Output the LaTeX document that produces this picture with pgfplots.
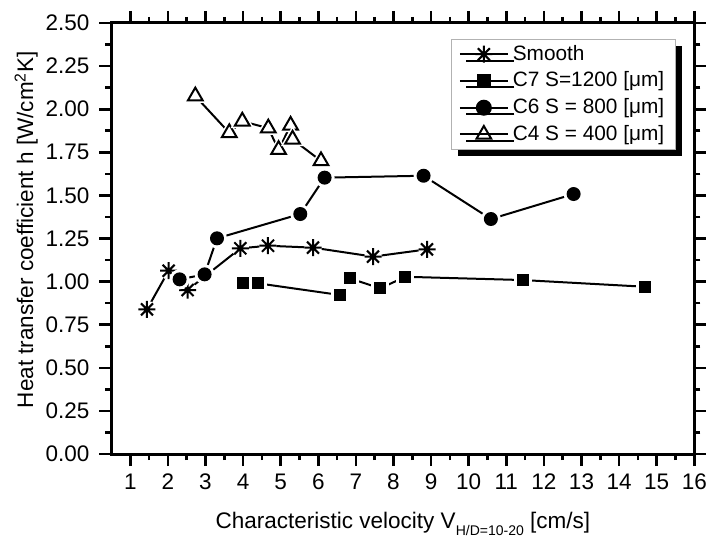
\documentclass[border=0pt]{standalone}
\usepackage{fontspec}
\setmainfont{Liberation Sans}
\usepackage{pgfplots}
\pgfplotsset{compat=1.18}
\usetikzlibrary{shadows}

\newdimen\halor
\def\starpath{%
  \pgfpathmoveto{\pgfqpoint{0pt}{\pgfplotmarksize}}%
  \pgfpathlineto{\pgfqpoint{0pt}{-\pgfplotmarksize}}%
  \pgfpathmoveto{\pgfqpoint{\pgfplotmarksize}{0pt}}%
  \pgfpathlineto{\pgfqpoint{-\pgfplotmarksize}{0pt}}%
  \pgfpathmoveto{\pgfqpoint{0.707\pgfplotmarksize}{0.707\pgfplotmarksize}}%
  \pgfpathlineto{\pgfqpoint{-0.707\pgfplotmarksize}{-0.707\pgfplotmarksize}}%
  \pgfpathmoveto{\pgfqpoint{-0.707\pgfplotmarksize}{0.707\pgfplotmarksize}}%
  \pgfpathlineto{\pgfqpoint{0.707\pgfplotmarksize}{-0.707\pgfplotmarksize}}}
\pgfdeclareplotmark{star8}{\starpath\pgfusepathqstroke}
\pgfdeclareplotmark{hstar}{%
  \pgfsetlinewidth{6pt}\pgfsetstrokecolor{white}%
  \starpath\pgfusepathqstroke
  \pgfsetlinewidth{2pt}\pgfsetstrokecolor{black}%
  \starpath\pgfusepathqstroke}
\pgfdeclareplotmark{hcircle}{%
  \halor=\pgfplotmarksize\advance\halor by 3pt
  \pgfsetfillcolor{white}%
  \pgfpathcircle{\pgfpointorigin}{\halor}\pgfusepathqfill
  \pgfsetfillcolor{black}%
  \pgfpathcircle{\pgfpointorigin}{\pgfplotmarksize}\pgfusepathqfill}
\pgfdeclareplotmark{hsquare}{%
  \halor=\pgfplotmarksize\advance\halor by 3pt
  \pgfsetfillcolor{white}%
  \pgfpathrectangle{\pgfqpoint{-\halor}{-\halor}}{\pgfqpoint{2\halor}{2\halor}}\pgfusepathqfill
  \pgfsetfillcolor{black}%
  \pgfpathrectangle{\pgfqpoint{-\pgfplotmarksize}{-\pgfplotmarksize}}{\pgfqpoint{2\pgfplotmarksize}{2\pgfplotmarksize}}\pgfusepathqfill}
\pgfdeclareplotmark{htriangle}{%
  \halor=\pgfplotmarksize\advance\halor by 5pt
  \pgfsetfillcolor{white}%
  \pgfpathmoveto{\pgfqpoint{0pt}{\halor}}%
  \pgfpathlineto{\pgfqpoint{-0.866\halor}{-0.5\halor}}%
  \pgfpathlineto{\pgfqpoint{0.866\halor}{-0.5\halor}}%
  \pgfpathclose\pgfusepathqfill
  \pgfsetlinewidth{2pt}\pgfsetstrokecolor{black}\pgfsetfillcolor{white}%
  \pgfsetmiterjoin
  \pgfpathmoveto{\pgfqpoint{0pt}{\pgfplotmarksize}}%
  \pgfpathlineto{\pgfqpoint{-0.866\pgfplotmarksize}{-0.5\pgfplotmarksize}}%
  \pgfpathlineto{\pgfqpoint{0.866\pgfplotmarksize}{-0.5\pgfplotmarksize}}%
  \pgfpathclose\pgfusepathqfillstroke}

\pgfplotstableread{
x y
1.444 0.839
2.019 1.063
2.524 0.951
3.926 1.193
4.662 1.208
5.859 1.197
7.455 1.145
8.891 1.187
}\smooth
\pgfplotstableread{
x y
3.997 0.990
4.396 0.990
6.585 0.922
6.832 1.019
7.649 0.961
8.314 1.028
11.44 1.009
14.70 0.970
}\cseven
\pgfplotstableread{
x y
2.311 1.013
2.976 1.042
3.306 1.251
5.521 1.392
6.168 1.603
8.800 1.614
10.59 1.363
12.79 1.508
}\csix
\pgfplotstableread{
x y
2.729 2.076
3.633 1.863
3.979 1.930
4.670 1.890
4.944 1.765
5.263 1.906
5.316 1.825
6.072 1.700
}\cfour

\begin{document}
\fontsize{22.5}{26}\selectfont
\begin{tikzpicture}
\path[use as bounding box] (-111.5pt,-85pt) rectangle (594.5pt,454pt);
\begin{axis}[
  at={(0pt,0pt)}, anchor=south west,
  scale only axis, width=582.8pt, height=431pt,
  xmin=0.5, xmax=16, ymin=0, ymax=2.5,
  xtick={1,2,3,4,5,6,7,8,9,10,11,12,13,14,15,16},
  minor x tick num=1,
  ytick={0,0.25,0.5,0.75,1,1.25,1.5,1.75,2,2.25,2.5},
  minor y tick num=1,
  /pgf/number format/assume math mode=true,
  yticklabel style={/pgf/number format/.cd, fixed, fixed zerofill, precision=2, /tikz/.cd, xshift=-2.5pt},
  xticklabel style={/pgf/number format/.cd, fixed},
  tick align=outside,
  major tick length=12pt, minor tick length=6pt,
  axis line style={line width=3pt},
  every tick/.style={line width=2.6pt, black},
  tick label style={font=\fontsize{22.5}{26}\selectfont},
  label style={font=\fontsize{22.5}{26}\selectfont},
  xlabel={Characteristic velocity V\raisebox{-7pt}{\fontsize{14}{14}\selectfont H/D=10-20} [cm/s]},
  xlabel style={at={(axis description cs:0.5,-0.1717)}, anchor=base},
  ylabel={Heat transfer coefficient h [W/cm\textsuperscript{2}K]},
  ylabel style={at={(axis description cs:-0.1346,0.52)}, anchor=base},
  clip=false,
  legend style={at={(axis description cs:0.968,0.964)}, anchor=north east,
    draw=gray!60, line width=1pt, fill=white,
    drop shadow={shadow xshift=6.5pt, shadow yshift=-6.5pt, fill=black, opacity=1},
    font=\fontsize{20.8}{24}\selectfont,
    nodes={inner ysep=2pt, inner xsep=4pt},
    row sep=4.3pt, inner xsep=7pt, inner ysep=4pt},
  legend cell align=left,
  legend image code/.code={\draw[mark repeat=2,mark phase=2,#1] plot coordinates {(0pt,0pt) (24pt,0pt) (48pt,0pt)};},
]
\addlegendimage{black, line width=2pt, mark=star8, mark size=8.5pt}
\addlegendentry{Smooth}
\addlegendimage{black, line width=2pt, mark=square*, mark size=6pt}
\addlegendentry{C7 S=1200 [μm]}
\addlegendimage{black, line width=2pt, mark=*, mark size=7pt}
\addlegendentry{C6 S = 800 [μm]}
\addlegendimage{black, line width=2pt, mark=triangle, mark size=8.5pt, mark options={fill=white}}
\addlegendentry{C4 S = 400 [μm]}

\addplot[black, line width=2pt, mark=hstar, mark size=8.5pt, forget plot] table {\smooth};
\addplot[black, line width=2pt, mark=hsquare, mark size=6pt, forget plot] table {\cseven};
\addplot[black, line width=2pt, mark=hcircle, mark size=7pt, forget plot] table {\csix};
\addplot[black, line width=2pt, mark=htriangle, mark size=8.5pt, forget plot] table {\cfour};
\end{axis}
\end{tikzpicture}
\end{document}
